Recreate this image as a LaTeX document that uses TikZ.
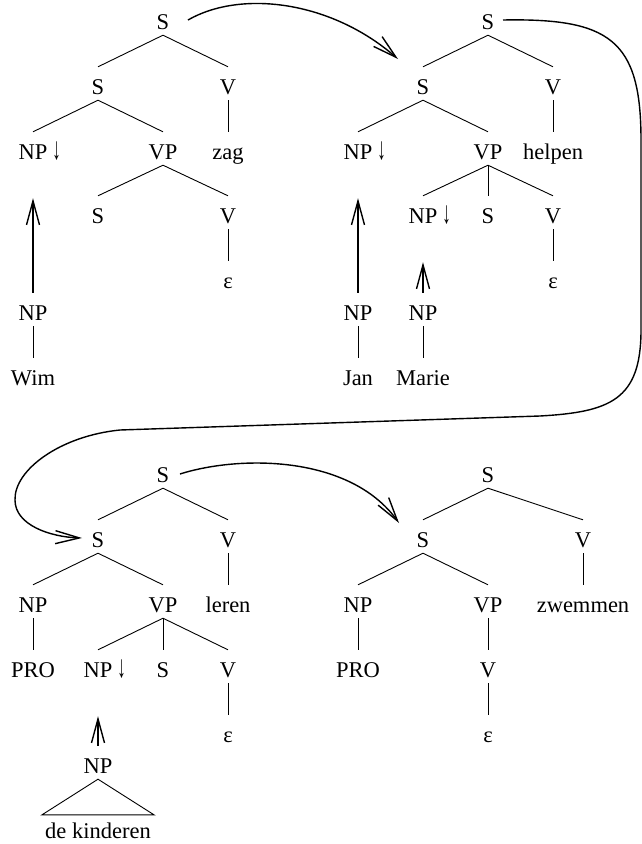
\documentclass[tikz,border=0pt]{standalone}
\usepackage{fontspec}
\usepackage{graphicx}
\setmainfont{Liberation Serif}
\usetikzlibrary{arrows.meta}
\newcommand{\npdown}{NP\rlap{\hspace{5pt}\scalebox{0.75}[1.4]{↓}}}
\begin{document}
\begin{tikzpicture}[x=1pt,y=-1pt,
  lab/.style={anchor=base, font=\fontsize{22.5}{27}\selectfont, text height=24pt, text depth=3pt, inner xsep=3pt, inner ysep=3pt},
  edge/.style={line width=0.9pt},
  arr/.style={line width=1.4pt, -{Straight Barb[length=24pt,width=13pt]}},
  uparr/.style={arr, shorten >=33pt}]
\useasboundingbox (0,0) rectangle (642,844);
% ---------- tree 1 ----------
\node[lab] (a0) at (163,29) {S};
\node[lab] (a1) at (98,94) {S};
\node[lab] (a2) at (228,94) {V};
\node[lab] (a3) at (33,159) {\npdown};
\node[lab] (a4) at (163,159) {VP};
\node[lab] (a5) at (228,159) {zag};
\node[lab] (a6) at (98,223) {S};
\node[lab] (a7) at (228,223) {V};
\node[lab] (a8) at (228,288) {ε};
\node[lab] (a9) at (33,320) {NP};
\node[lab] (a10) at (33,385) {Wim};
\draw[edge] (a0.south) -- (a1.north);
\draw[edge] (a0.south) -- (a2.north);
\draw[edge] (a1.south) -- (a3.north);
\draw[edge] (a1.south) -- (a4.north);
\draw[edge] (a2.south) -- (a5.north);
\draw[edge] (a4.south) -- (a6.north);
\draw[edge] (a4.south) -- (a7.north);
\draw[edge] (a7.south) -- (a8.north);
\draw[edge] (a9.south) -- (a10.north);
\draw[uparr] (a9) -- (a3);
% ---------- tree 2 ----------
\node[lab] (b0) at (488,29) {S};
\node[lab] (b1) at (423,94) {S};
\node[lab] (b2) at (553,94) {V};
\node[lab] (b3) at (358,159) {\npdown};
\node[lab] (b4) at (488,159) {VP};
\node[lab] (b5) at (553,159) {helpen};
\node[lab] (b6) at (423,223) {\npdown};
\node[lab] (b7) at (488,223) {S};
\node[lab] (b8) at (553,223) {V};
\node[lab] (b9) at (553,288) {ε};
\node[lab] (b10) at (358,320) {NP};
\node[lab] (b11) at (358,385) {Jan};
\node[lab] (b12) at (423,320) {NP};
\node[lab] (b13) at (423,385) {Marie};
\draw[edge] (b0.south) -- (b1.north);
\draw[edge] (b0.south) -- (b2.north);
\draw[edge] (b1.south) -- (b3.north);
\draw[edge] (b1.south) -- (b4.north);
\draw[edge] (b2.south) -- (b5.north);
\draw[edge] (b4.south) -- (b6.north);
\draw[edge] (b4.south) -- (b7.north);
\draw[edge] (b4.south) -- (b8.north);
\draw[edge] (b8.south) -- (b9.north);
\draw[edge] (b10.south) -- (b11.north);
\draw[edge] (b12.south) -- (b13.north);
\draw[uparr] (b10) -- (b3);
\draw[uparr] (b12) -- (b6);
% ---------- tree 3 ----------
\node[lab] (c0) at (163,482) {S};
\node[lab] (c1) at (98,547) {S};
\node[lab] (c2) at (228,547) {V};
\node[lab] (c3) at (33,612) {NP};
\node[lab] (c4) at (163,612) {VP};
\node[lab] (c5) at (228,612) {leren};
\node[lab] (c6) at (33,677) {PRO};
\node[lab] (c7) at (98,677) {\npdown};
\node[lab] (c8) at (163,677) {S};
\node[lab] (c9) at (228,677) {V};
\node[lab] (c10) at (228,742) {ε};
\node[lab] (c11) at (98,773) {NP};
\node[lab] (c12) at (98,838) {de kinderen};
\draw[edge] (c0.south) -- (c1.north);
\draw[edge] (c0.south) -- (c2.north);
\draw[edge] (c1.south) -- (c3.north);
\draw[edge] (c1.south) -- (c4.north);
\draw[edge] (c2.south) -- (c5.north);
\draw[edge] (c3.south) -- (c6.north);
\draw[edge] (c4.south) -- (c7.north);
\draw[edge] (c4.south) -- (c8.north);
\draw[edge] (c4.south) -- (c9.north);
\draw[edge] (c9.south) -- (c10.north);
\draw[edge] (c11.south) -- ([yshift=-4pt]c12.north west) -- ([yshift=-4pt]c12.north east) -- cycle;
\draw[uparr] (c11) -- (c7);
% ---------- tree 4 ----------
\node[lab] (d0) at (488,482) {S};
\node[lab] (d1) at (423,547) {S};
\node[lab] (d2) at (583,547) {V};
\node[lab] (d3) at (358,612) {NP};
\node[lab] (d4) at (488,612) {VP};
\node[lab] (d5) at (583,612) {zwemmen};
\node[lab] (d6) at (358,677) {PRO};
\node[lab] (d7) at (488,677) {V};
\node[lab] (d8) at (488,742) {ε};
\draw[edge] (d0.south) -- (d1.north);
\draw[edge] (d0.south) -- (d2.north);
\draw[edge] (d1.south) -- (d3.north);
\draw[edge] (d1.south) -- (d4.north);
\draw[edge] (d2.south) -- (d5.north);
\draw[edge] (d3.south) -- (d6.north);
\draw[edge] (d4.south) -- (d7.north);
\draw[edge] (d7.south) -- (d8.north);
% ---------- curved arrows ----------
\draw[arr] ([shift={(25,1.5)}]a0.center) .. controls (240,-10) and (330,0) .. ([shift={(-25,-24.5)}]b1.center);
\draw[arr] ([shift={(15,1.5)}]b0.center) .. controls (610,18) and (641,40) .. (641,140) -- (641,330)
  .. controls (641,400) and (610,412) .. (540,416) -- (120,430)
  .. controls (60,436) and (14,470) .. (15,500)
  .. controls (15,525) and (50,537) .. ([shift={(-16,1.5)}]c1.center);
\draw[arr] ([shift={(17,2.5)}]c0.center) .. controls (240,455) and (350,455) .. ([shift={(-24,-13.5)}]d1.center);
\end{tikzpicture}
\end{document}
